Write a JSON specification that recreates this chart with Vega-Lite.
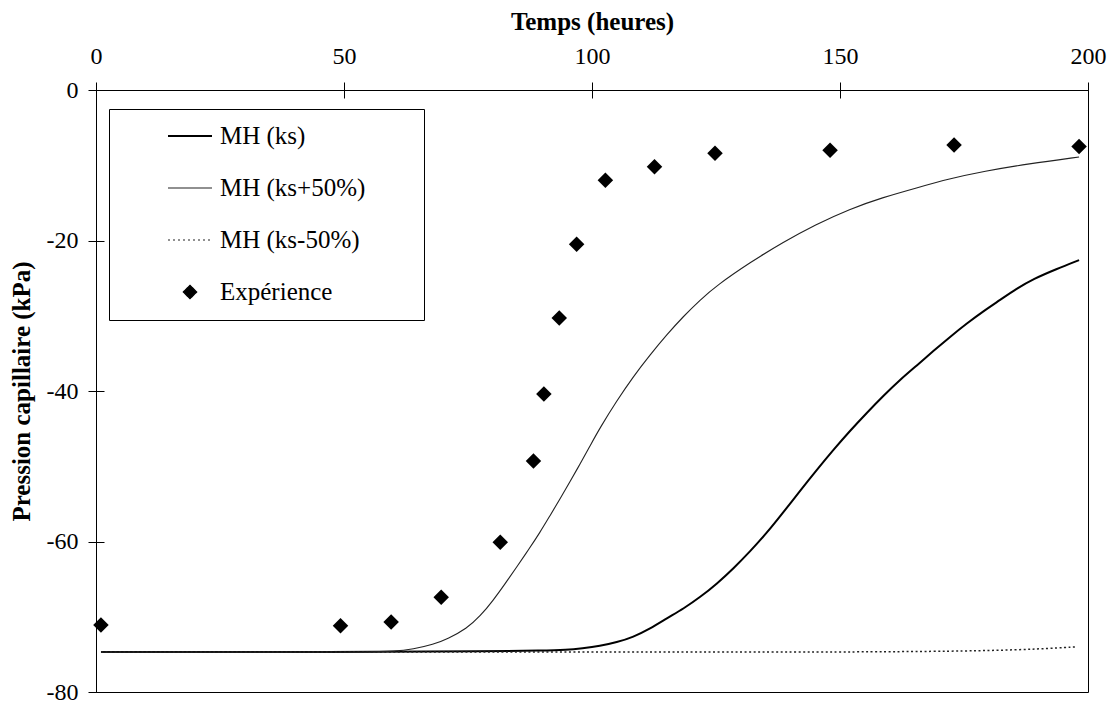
{
  "$schema": "https://vega.github.io/schema/vega-lite/v6.json",
  "width": 992,
  "height": 602,
  "autosize": "none",
  "padding": {"left": 96, "top": 90, "right": 29, "bottom": 12},
  "background": "white",
  "config": {
    "view": {"stroke": "black", "strokeWidth": 1},
    "axis": {
      "titleFont": "Liberation Serif",
      "labelFont": "Liberation Serif",
      "labelFontSize": 24,
      "titleFontSize": 25,
      "titleFontWeight": "bold",
      "labelColor": "black",
      "titleColor": "black",
      "domainColor": "black",
      "tickColor": "black",
      "grid": false,
      "labelFlush": false,
      "labelOverlap": false
    }
  },
  "datasets": {
    "curves": [
      {"series": "MH (ks)", "t": 1, "p": -74.7},
      {"series": "MH (ks)", "t": 50, "p": -74.7},
      {"series": "MH (ks)", "t": 80, "p": -74.6},
      {"series": "MH (ks)", "t": 90, "p": -74.5},
      {"series": "MH (ks)", "t": 94.9, "p": -74.4},
      {"series": "MH (ks)", "t": 98, "p": -74.2},
      {"series": "MH (ks)", "t": 101.6, "p": -73.9},
      {"series": "MH (ks)", "t": 105, "p": -73.4},
      {"series": "MH (ks)", "t": 108.3, "p": -72.7},
      {"series": "MH (ks)", "t": 111.7, "p": -71.6},
      {"series": "MH (ks)", "t": 115.1, "p": -70.2},
      {"series": "MH (ks)", "t": 118.5, "p": -68.9},
      {"series": "MH (ks)", "t": 121.8, "p": -67.4},
      {"series": "MH (ks)", "t": 125.2, "p": -65.6},
      {"series": "MH (ks)", "t": 128.5, "p": -63.6},
      {"series": "MH (ks)", "t": 131.9, "p": -61.3},
      {"series": "MH (ks)", "t": 135.2, "p": -58.9},
      {"series": "MH (ks)", "t": 138.6, "p": -56.1},
      {"series": "MH (ks)", "t": 141.9, "p": -53.3},
      {"series": "MH (ks)", "t": 145.3, "p": -50.5},
      {"series": "MH (ks)", "t": 148.7, "p": -47.8},
      {"series": "MH (ks)", "t": 152, "p": -45.3},
      {"series": "MH (ks)", "t": 155.4, "p": -42.9},
      {"series": "MH (ks)", "t": 158.8, "p": -40.6},
      {"series": "MH (ks)", "t": 162.1, "p": -38.5},
      {"series": "MH (ks)", "t": 165.5, "p": -36.6},
      {"series": "MH (ks)", "t": 168.8, "p": -34.7},
      {"series": "MH (ks)", "t": 172.2, "p": -32.8},
      {"series": "MH (ks)", "t": 175.6, "p": -31.0},
      {"series": "MH (ks)", "t": 178.9, "p": -29.4},
      {"series": "MH (ks)", "t": 182.3, "p": -27.9},
      {"series": "MH (ks)", "t": 185.6, "p": -26.4},
      {"series": "MH (ks)", "t": 189, "p": -25.1},
      {"series": "MH (ks)", "t": 193.6, "p": -23.8},
      {"series": "MH (ks)", "t": 198.2, "p": -22.6},
      {"series": "MH (ks+50%)", "t": 1, "p": -74.7},
      {"series": "MH (ks+50%)", "t": 40, "p": -74.7},
      {"series": "MH (ks+50%)", "t": 55, "p": -74.7},
      {"series": "MH (ks+50%)", "t": 60, "p": -74.6},
      {"series": "MH (ks+50%)", "t": 64, "p": -74.3},
      {"series": "MH (ks+50%)", "t": 68, "p": -73.7},
      {"series": "MH (ks+50%)", "t": 71, "p": -72.9},
      {"series": "MH (ks+50%)", "t": 74.7, "p": -71.6},
      {"series": "MH (ks+50%)", "t": 77.5, "p": -69.9},
      {"series": "MH (ks+50%)", "t": 80.1, "p": -67.8},
      {"series": "MH (ks+50%)", "t": 82.5, "p": -65.6},
      {"series": "MH (ks+50%)", "t": 84.8, "p": -63.4},
      {"series": "MH (ks+50%)", "t": 87.2, "p": -61.1},
      {"series": "MH (ks+50%)", "t": 89.5, "p": -58.8},
      {"series": "MH (ks+50%)", "t": 91.5, "p": -56.6},
      {"series": "MH (ks+50%)", "t": 93.5, "p": -54.4},
      {"series": "MH (ks+50%)", "t": 95.5, "p": -52.1},
      {"series": "MH (ks+50%)", "t": 97.6, "p": -49.7},
      {"series": "MH (ks+50%)", "t": 99.6, "p": -47.3},
      {"series": "MH (ks+50%)", "t": 101.6, "p": -44.9},
      {"series": "MH (ks+50%)", "t": 105, "p": -41.3},
      {"series": "MH (ks+50%)", "t": 108.3, "p": -38.1},
      {"series": "MH (ks+50%)", "t": 111.7, "p": -35.2},
      {"series": "MH (ks+50%)", "t": 115.1, "p": -32.5},
      {"series": "MH (ks+50%)", "t": 118.4, "p": -30.1},
      {"series": "MH (ks+50%)", "t": 121.8, "p": -27.9},
      {"series": "MH (ks+50%)", "t": 125.1, "p": -26.0},
      {"series": "MH (ks+50%)", "t": 131.9, "p": -22.9},
      {"series": "MH (ks+50%)", "t": 138.6, "p": -20.2},
      {"series": "MH (ks+50%)", "t": 145, "p": -17.9},
      {"series": "MH (ks+50%)", "t": 152, "p": -15.8},
      {"series": "MH (ks+50%)", "t": 158.5, "p": -14.3},
      {"series": "MH (ks+50%)", "t": 165.5, "p": -13.0},
      {"series": "MH (ks+50%)", "t": 172, "p": -11.8},
      {"series": "MH (ks+50%)", "t": 179, "p": -10.8},
      {"series": "MH (ks+50%)", "t": 188, "p": -9.8},
      {"series": "MH (ks+50%)", "t": 198.2, "p": -8.9},
      {"series": "MH (ks-50%)", "t": 1, "p": -74.7},
      {"series": "MH (ks-50%)", "t": 50, "p": -74.7},
      {"series": "MH (ks-50%)", "t": 100, "p": -74.7},
      {"series": "MH (ks-50%)", "t": 150, "p": -74.7},
      {"series": "MH (ks-50%)", "t": 170, "p": -74.6},
      {"series": "MH (ks-50%)", "t": 180, "p": -74.5},
      {"series": "MH (ks-50%)", "t": 190, "p": -74.3},
      {"series": "MH (ks-50%)", "t": 197.7, "p": -74.0}
    ],
    "exp": [
      {"series": "Expérience", "t": 1, "p": -71.1},
      {"series": "Expérience", "t": 49.3, "p": -71.2},
      {"series": "Expérience", "t": 59.5, "p": -70.7},
      {"series": "Expérience", "t": 69.6, "p": -67.4},
      {"series": "Expérience", "t": 81.5, "p": -60.1},
      {"series": "Expérience", "t": 88.2, "p": -49.3},
      {"series": "Expérience", "t": 90.3, "p": -40.4},
      {"series": "Expérience", "t": 93.4, "p": -30.3},
      {"series": "Expérience", "t": 96.9, "p": -20.5},
      {"series": "Expérience", "t": 102.7, "p": -12.0},
      {"series": "Expérience", "t": 112.6, "p": -10.2},
      {"series": "Expérience", "t": 124.8, "p": -8.4},
      {"series": "Expérience", "t": 148.0, "p": -8.0},
      {"series": "Expérience", "t": 173.0, "p": -7.3},
      {"series": "Expérience", "t": 198.2, "p": -7.5}
    ]
  },
  "layer": [
    {
      "data": {"name": "curves"},
      "transform": [{"filter": "datum.series === 'MH (ks)'"}],
      "mark": {"type": "line", "strokeWidth": 2, "interpolate": "basis"},
      "encoding": {
        "x": {"field": "t", "type": "quantitative", "scale": {"domain": [0, 200], "nice": false, "zero": false},
          "axis": {"orient": "top", "values": [0, 50, 100, 150, 200], "tickSize": 8, "labelPadding": 14, "title": "Temps (heures)", "titlePadding": 10,
            "labelFont": "Liberation Serif"}},
        "y": {"field": "p", "type": "quantitative", "scale": {"domain": [-80, 0], "nice": false, "zero": false},
          "axis": {"orient": "left", "values": [-80, -60, -40, -20, 0], "tickSize": 8, "labelPadding": 10, "labelExpr": "'' + datum.value", "title": "Pression capillaire (kPa)", "titlePadding": 12,
            "labelFont": "Liberation Serif"}},
        "color": {"field": "series", "type": "nominal",
          "scale": {"domain": ["MH (ks)", "MH (ks+50%)", "MH (ks-50%)", "Expérience"], "range": ["#000000", "#222222", "#222222", "#000000"]},
          "legend": {
            "title": "\u00a0",
            "titleOrient": "right",
            "titleFontSize": 24,
            "titlePadding": 44,
            "orient": "none",
            "legendX": 13,
            "legendY": 19,
            "padding": 14.5,
            "strokeColor": "black",
            "fillColor": "white",
            "labelFont": "Liberation Serif",
            "labelFontSize": 25,
            "labelColor": "black",
            "symbolSize": 1936,
            "symbolOffset": 54,
            "labelOffset": 17.5,
            "rowPadding": 26,
            "labelLimit": 400,
            "encode": {
              "symbols": {"update": {
                "shape": {"signal": "datum.value === 'Expérience' ? 'diamond' : 'stroke'"},
                "size": {"signal": "datum.value === 'Expérience' ? 180 : 1936"},
                "strokeDash": {"signal": "datum.value === 'MH (ks-50%)' ? [2, 3] : [1, 0]"},
                "strokeWidth": {"signal": "datum.value === 'MH (ks)' ? 2 : 1.2"},
                "fill": {"signal": "datum.value === 'Expérience' ? 'black' : 'transparent'"},
                "stroke": {"signal": "datum.value === 'Expérience' ? 'transparent' : 'black'"},
                "opacity": {"value": 1}
              }}
            }
          }
        }
      }
    },
    {
      "data": {"name": "curves"},
      "transform": [{"filter": "datum.series === 'MH (ks+50%)'"}],
      "mark": {"type": "line", "strokeWidth": 1.1, "interpolate": "basis"},
      "encoding": {
        "x": {"field": "t", "type": "quantitative",
          "axis": {"orient": "top", "values": [0, 50, 100, 150, 200], "tickSize": -8, "labels": false, "domain": false, "title": null}},
        "y": {"field": "p", "type": "quantitative",
          "axis": {"orient": "left", "values": [-80, -60, -40, -20, 0], "tickSize": -8, "labels": false, "domain": false, "title": null}},
        "color": {"field": "series", "type": "nominal"}
      }
    },
    {
      "data": {"name": "curves"},
      "transform": [{"filter": "datum.series === 'MH (ks-50%)'"}],
      "mark": {"type": "line", "strokeWidth": 1.5, "strokeDash": [2, 2.5], "interpolate": "basis"},
      "encoding": {
        "x": {"field": "t", "type": "quantitative", "axis": null},
        "y": {"field": "p", "type": "quantitative", "axis": null},
        "color": {"field": "series", "type": "nominal"}
      }
    },
    {
      "data": {"name": "exp"},
      "mark": {"type": "point", "shape": "diamond", "filled": true, "size": 240, "opacity": 1},
      "encoding": {
        "x": {"field": "t", "type": "quantitative", "axis": null},
        "y": {"field": "p", "type": "quantitative", "axis": null},
        "color": {"field": "series", "type": "nominal"}
      }
    }
  ],
  "resolve": {"axis": {"x": "independent", "y": "independent"}}
}
